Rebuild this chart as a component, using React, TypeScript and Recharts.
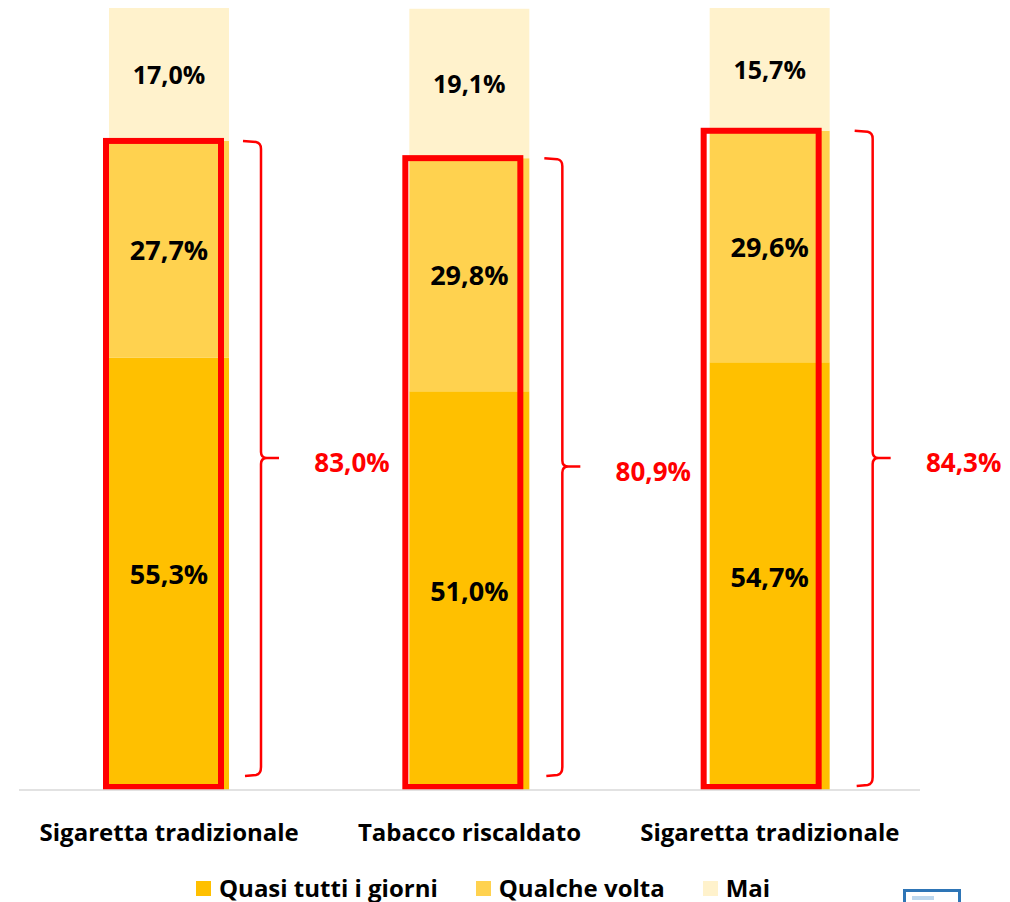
import React from "react";
import { BarChart, Bar, XAxis, YAxis, LabelList } from "recharts";

const categories = ["Sigaretta tradizionale", "Tabacco riscaldato", "Sigaretta tradizionale"];
const quasiTutti = [55.3, 51.0, 54.7];
const qualcheVolta = [27.7, 29.8, 29.6];
const mai = [17.0, 19.1, 15.7];
const totals = [83.0, 80.9, 84.3];

const seriesNames = ["Quasi tutti i giorni", "Qualche volta", "Mai"];
const seriesColors = ["#FFC000", "#FFD24F", "#FFF2CC"];

const data = categories.map((name, i) => ({
	name,
	quasi: quasiTutti[i],
	qualche: qualcheVolta[i],
	mai: mai[i],
	totale: totals[i],
}));

const FONT = "'Open Sans', sans-serif";
const RED = "#FF0000";

// hand-drawn look: braces / boxes are not placed identically on each bar
const braceGap = [32, 33, 43];
const braceBottomGap = [15, 15, 5];
const boxShift = [-3, -4, -6];

const fmt = (v: number) => v.toFixed(1).replace(".", ",") + "%";

const segLabel = (size: number) => (p: any) => {
	const vb = p.viewBox && p.viewBox.width !== undefined ? p.viewBox : p;
	const { x, y, width, height } = vb;
	return (
		<text
			x={x + width / 2}
			y={y + height / 2}
			textAnchor="middle"
			dominantBaseline="central"
			fontFamily={FONT}
			fontSize={size}
			fontWeight={700}
			fill="#000"
		>
			{fmt(Number(p.value))}
		</text>
	);
};

// top segment + red box around the two lower segments + brace with total
const MaiShape = (props: any) => {
	const { x, y, width, height, payload, fill, index } = props;
	const i = index ?? 0;
	const px = height / payload.mai;
	const segTop = y + height;
	const base = segTop + (payload.quasi + payload.qualche) * px;
	const xv = x + width + braceGap[i];
	const yt = segTop;
	const yb = base - braceBottomGap[i];
	const ym = (yt + yb) / 2;
	const brace = [
		`M ${xv - 18} ${yt}`,
		`L ${xv - 5} ${yt + 1}`,
		`Q ${xv} ${yt + 2} ${xv} ${yt + 8}`,
		`L ${xv} ${ym - 6}`,
		`Q ${xv} ${ym} ${xv + 6} ${ym}`,
		`L ${xv + 18} ${ym}`,
		`M ${xv + 6} ${ym}`,
		`Q ${xv} ${ym} ${xv} ${ym + 6}`,
		`L ${xv} ${yb - 8}`,
		`Q ${xv} ${yb - 1} ${xv - 5} ${yb}`,
		`L ${xv - 16} ${yb + 1}`,
	].join(" ");
	return (
		<g>
			<rect x={x} y={y} width={width} height={height} fill={fill} />
			<rect
				x={x + boxShift[i]}
				y={segTop}
				width={width - 5}
				height={base - 3 - segTop}
				fill="none"
				stroke={RED}
				strokeWidth={6}
			/>
			<path d={brace} fill="none" stroke={RED} strokeWidth={2.5} />
			<text
				x={xv + 91}
				y={ym + 4}
				textAnchor="middle"
				dominantBaseline="central"
				fontFamily={FONT}
				fontSize={26}
				fontWeight={700}
				fill={RED}
			>
				{fmt(payload.totale)}
			</text>
		</g>
	);
};

const Tick = (p: any) => (
	<text
		x={p.x}
		y={p.y + 39}
		textAnchor="middle"
		dominantBaseline="central"
		fontFamily={FONT}
		fontSize={24}
		fontWeight={700}
		fill="#000"
	>
		{p.payload.value}
	</text>
);

export default function App() {
	return (
		<div style={{ position: "absolute", left: 0, top: 0, width: 1010, height: 902, fontFamily: FONT }}>
			<BarChart
				width={1010}
				height={902}
				data={data}
				margin={{ top: 8, right: 90, left: 19, bottom: 52 }}
			>
				<XAxis
					dataKey="name"
					height={60}
					tickLine={false}
					tickSize={0}
					axisLine={{ stroke: "#D9D9D9", strokeWidth: 1.5 }}
					tick={<Tick />}
					interval={0}
				/>
				<YAxis hide domain={[0, 100]} />
				<Bar dataKey="quasi" stackId="a" fill={seriesColors[0]} barSize={120} isAnimationActive={false}>
					<LabelList dataKey="quasi" content={segLabel(27)} />
				</Bar>
				<Bar dataKey="qualche" stackId="a" fill={seriesColors[1]} barSize={120} isAnimationActive={false}>
					<LabelList dataKey="qualche" content={segLabel(27)} />
				</Bar>
				<Bar
					dataKey="mai"
					stackId="a"
					fill={seriesColors[2]}
					barSize={120}
					shape={<MaiShape />}
					isAnimationActive={false}
				>
					<LabelList dataKey="mai" content={segLabel(25)} />
				</Bar>
			</BarChart>
			<div
				style={{
					position: "absolute",
					left: 196,
					top: 874,
					height: 28,
					display: "flex",
					alignItems: "center",
				}}
			>
				{seriesNames.map((n, i) => (
					<div key={n} style={{ display: "flex", alignItems: "center", marginRight: 38 }}>
						<span style={{ width: 15, height: 15, background: seriesColors[i], marginRight: 8 }} />
						<span style={{ fontSize: 24, fontWeight: 700, color: "#000", lineHeight: "28px" }}>{n}</span>
					</div>
				))}
			</div>
			<div
				style={{
					position: "absolute",
					left: 903,
					top: 889,
					width: 52,
					height: 20,
					border: "3px solid #2E75B6",
					boxSizing: "content-box",
				}}
			>
				<div style={{ position: "absolute", left: 6, top: 4, width: 22, height: 4, background: "#BDD7EE" }} />
			</div>
		</div>
	);
}
